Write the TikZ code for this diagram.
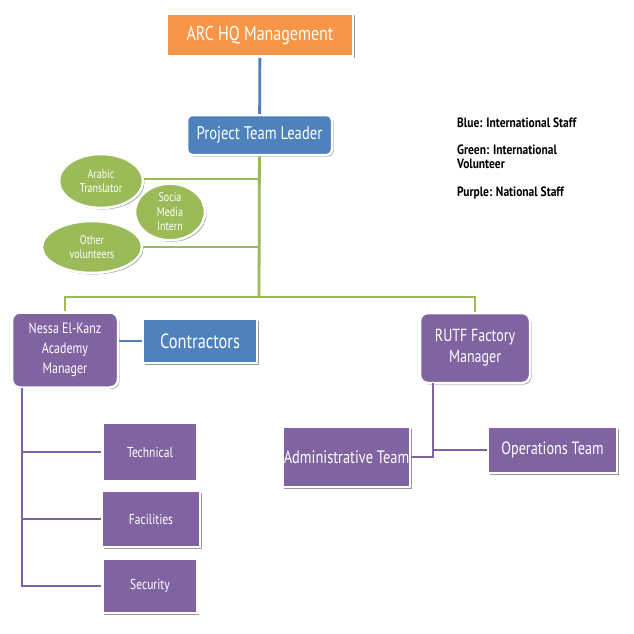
\documentclass[tikz,border=0pt]{standalone}
\usepackage{fontspec}
\setmainfont{PT Sans}
\newfontfamily\narrowfont[FakeStretch=0.8]{PT Sans}
\newfontfamily\legendfont[FakeStretch=0.85]{PT Sans}
\usetikzlibrary{shapes.geometric,shadows}
\definecolor{arcorange}{HTML}{F79646}
\definecolor{arcblue}{HTML}{4F81BD}
\definecolor{arcgreen}{HTML}{9BBB59}
\definecolor{arcpurple}{HTML}{8064A2}
\tikzset{
  unit/.style={draw=white, line width=2.5pt, text=white, align=center,
    inner sep=1pt, font=\narrowfont,
    drop shadow={shadow xshift=1.5pt, shadow yshift=-1.5pt, opacity=0.4, fill=black}},
  hqbox/.style={unit, fill=arcorange},
  staffbox/.style={unit, fill=arcblue},
  localbox/.style={unit, fill=arcpurple},
  volunteer/.style={unit, ellipse, fill=arcgreen},
  link/.style={line width=2.8pt},
  legend/.style={anchor=west, align=left, inner sep=0pt, font=\legendfont\bfseries\fontsize{13.5}{14}\selectfont}
}
\begin{document}
\begin{tikzpicture}[x=1pt, y=-1pt]
  \useasboundingbox (0,0) rectangle (634,633);
  % top of the chart
  \node[hqbox, minimum width=186pt, minimum height=43pt, font=\narrowfont\fontsize{20}{22}\selectfont] (hq) at (260,35) {ARC HQ Management};
  \node[staffbox, rounded corners=5pt, minimum width=145pt, minimum height=40pt, font=\narrowfont\fontsize{18.3}{20}\selectfont] (leader) at (259.5,135) {Project Team Leader};
  % volunteers
  \node[volunteer, minimum width=84pt, minimum height=54pt, font=\narrowfont\fontsize{12.5}{14}\selectfont] (arabic) at (101,181) {Arabic\\Translator};
  \node[volunteer, minimum width=70pt, minimum height=56pt, font=\narrowfont\fontsize{12.5}{14.5}\selectfont] (social) at (170,212) {Socia\\Media\\Intern};
  \node[volunteer, minimum width=100pt, minimum height=52pt, font=\narrowfont\fontsize{12.5}{14}\selectfont] (other) at (92,247) {Other\\volunteers};
  % managers
  \node[localbox, rounded corners=8pt, minimum width=106pt, minimum height=75pt, font=\narrowfont\fontsize{15}{20}\selectfont] (nessa) at (65,350) {Nessa El-Kanz\\Academy\\Manager};
  \node[staffbox, minimum width=114pt, minimum height=44pt, font=\narrowfont\fontsize{20.5}{22}\selectfont] (contractors) at (200,341) {Contractors};
  \node[localbox, rounded corners=8pt, minimum width=110pt, minimum height=70pt, font=\narrowfont\fontsize{17.5}{21}\selectfont] (rutf) at (475,348) {RUTF Factory\\Manager};
  % teams
  \node[localbox, minimum width=95pt, minimum height=59pt, font=\narrowfont\fontsize{14.4}{16}\selectfont] (technical) at (150,452) {Technical};
  \node[localbox, minimum width=98pt, minimum height=56pt, font=\narrowfont\fontsize{14.4}{16}\selectfont] (facilities) at (151,519) {Facilities};
  \node[localbox, minimum width=95pt, minimum height=54pt, font=\narrowfont\fontsize{14.4}{16}\selectfont] (security) at (150,586) {Security};
  \node[localbox, minimum width=127pt, minimum height=60pt, font=\narrowfont\fontsize{18}{20}\selectfont] (admin) at (346.5,457) {Administrative Team};
  \node[localbox, minimum width=129pt, minimum height=46pt, font=\narrowfont\fontsize{17.8}{20}\selectfont] (ops) at (552.5,450) {Operations Team};
  % legend
  \node[legend] (keyblue) at (457,123) {Blue: International Staff};
  \node[legend] (keygreen) at (457,157) {Green: International\\Volunteer};
  \node[legend] (keypurple) at (457,193) {Purple: National Staff};
  % connectors
  \coordinate (split) at (259,297);
  \coordinate (nbus) at (22,388);
  \coordinate (rbus) at (433,383);
  \draw[link, arcblue] (hq) -- (leader);
  \draw[link, arcgreen] (leader) -- (split);
  \draw[link, arcgreen] (arabic.east |- 0,179) -- (split |- 0,179);
  \draw[link, arcgreen] (other) -- (other -| split);
  \draw[link, arcgreen] (nessa.north) |- (split) -| (rutf.north);
  \draw[link, arcblue] (nessa.east |- contractors) -- (contractors.west);
  \draw[link, arcpurple] (nbus) |- (security.west);
  \draw[link, arcpurple] (technical.west) -- (technical.west -| nbus);
  \draw[link, arcpurple] (facilities.west) -- (facilities.west -| nbus);
  \draw[link, arcpurple] (rbus) |- (admin.east);
  \draw[link, arcpurple] (ops.west) -- (ops.west -| rbus);
\end{tikzpicture}
\end{document}
